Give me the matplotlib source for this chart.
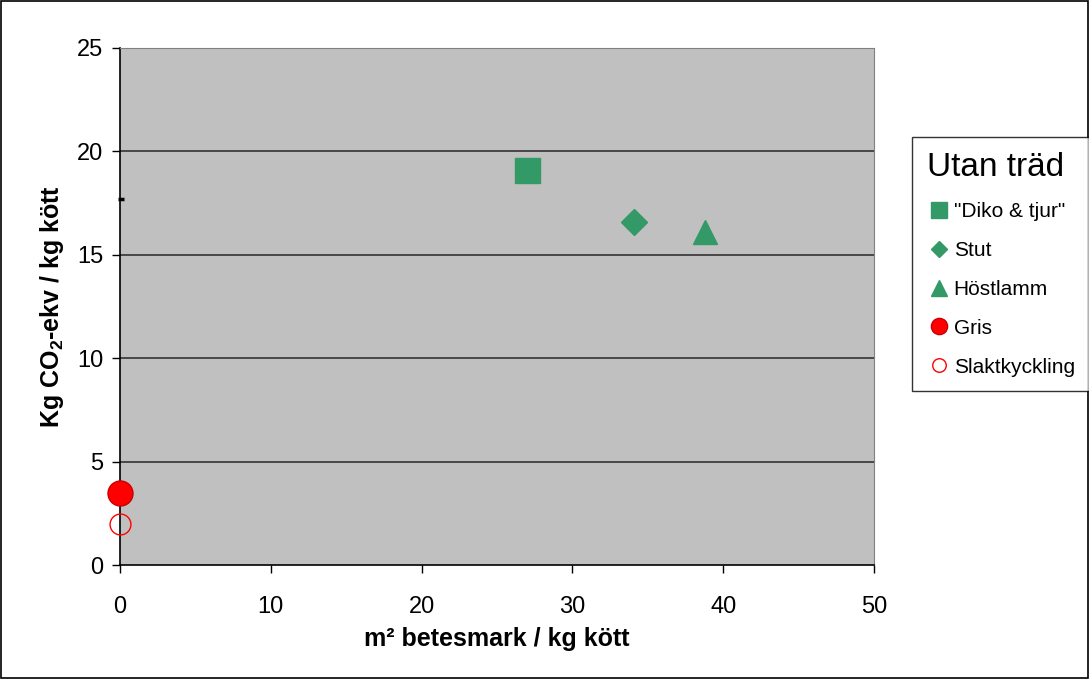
"""Scatter of CO2-ekv per kg kött against betesmark per kg kött."""

import matplotlib
matplotlib.use("Agg")
from matplotlib import pyplot as plt
from matplotlib.patches import Rectangle

plt.rcParams['font.family'] = ['Liberation Sans', 'DejaVu Sans']

# data
labels = ['"Diko & tjur"', "Stut", "Höstlamm", "Gris", "Slaktkyckling"]
betesmark = [27.0, 34.1, 38.8, 0.0, 0.0]
co2_ekv = [19.1, 16.6, 16.1, 3.5, 2.0]
markers = ["s", "D", "^", "o", "o"]
marker_sizes = [18, 13, 17, 18, 15]
face_colors = ["#339966", "#339966", "#339966", "#FF0000", "none"]
edge_colors = ["#339966", "#339966", "#339966", "#CC0000", "#FF0000"]

x_ticks = [0, 10, 20, 30, 40, 50]
y_ticks = [0, 5, 10, 15, 20, 25]

fig = plt.figure(figsize=(10.89, 6.79), dpi=100)
fig.patches.append(Rectangle((0.001, 0.001), 0.998, 0.998, transform=fig.transFigure,
                             fill=False, edgecolor="black", linewidth=1.2))
ax = fig.add_axes([120 / 1089, 1 - 565 / 679, 754 / 1089, 517 / 679])
ax.set_facecolor("#C0C0C0")

for y in y_ticks[1:]:
    ax.axhline(y, color="#333333", linewidth=1.2, zorder=1)

for x, y, lab, m, ms, fc, ec in zip(betesmark, co2_ekv, labels, markers,
                                     marker_sizes, face_colors, edge_colors):
    ax.plot(x, y, linestyle="none", marker=m, markersize=ms,
            markerfacecolor=fc, markeredgecolor=ec, markeredgewidth=1,
            label=lab, clip_on=False, zorder=3)

# small stray mark next to the axis
ax.plot(0.05, 17.7, marker="_", markersize=5, color="black",
        markeredgewidth=2.5, clip_on=False, zorder=3)

ax.set_xlim(0, 50)
ax.set_ylim(0, 25)
ax.set_xticks(x_ticks)
ax.set_yticks(y_ticks)
ax.tick_params(axis="both", direction="out", length=6, width=1,
               labelsize=17, colors="black")
ax.tick_params(axis="x", pad=16)
ax.tick_params(axis="y", pad=6)
for side in ["top", "right"]:
    ax.spines[side].set_color("#808080")
for side in ["left", "bottom"]:
    ax.spines[side].set_color("black")
    ax.spines[side].set_linewidth(1.2)

ax.set_xlabel("m² betesmark / kg kött", fontsize=18, fontweight="bold", labelpad=7)
ax.set_ylabel("Kg CO$_\\mathregular{2}$-ekv / kg kött", fontsize=18, fontweight="bold",
              labelpad=8)

leg = fig.legend(loc="upper left", bbox_to_anchor=(912 / 1089, 1 - 137 / 679),
                 title="Utan träd", title_fontsize=24, fontsize=15,
                 frameon=True, fancybox=False, edgecolor="black",
                 handletextpad=0.1, labelspacing=0.95, borderpad=0.7,
                 handlelength=1.2, markerscale=0.65, borderaxespad=0)
leg.get_frame().set_linewidth(1)
leg._legend_box.align = "left"

fig.savefig("out.png", dpi=100, facecolor="white")
plt.close(fig)
